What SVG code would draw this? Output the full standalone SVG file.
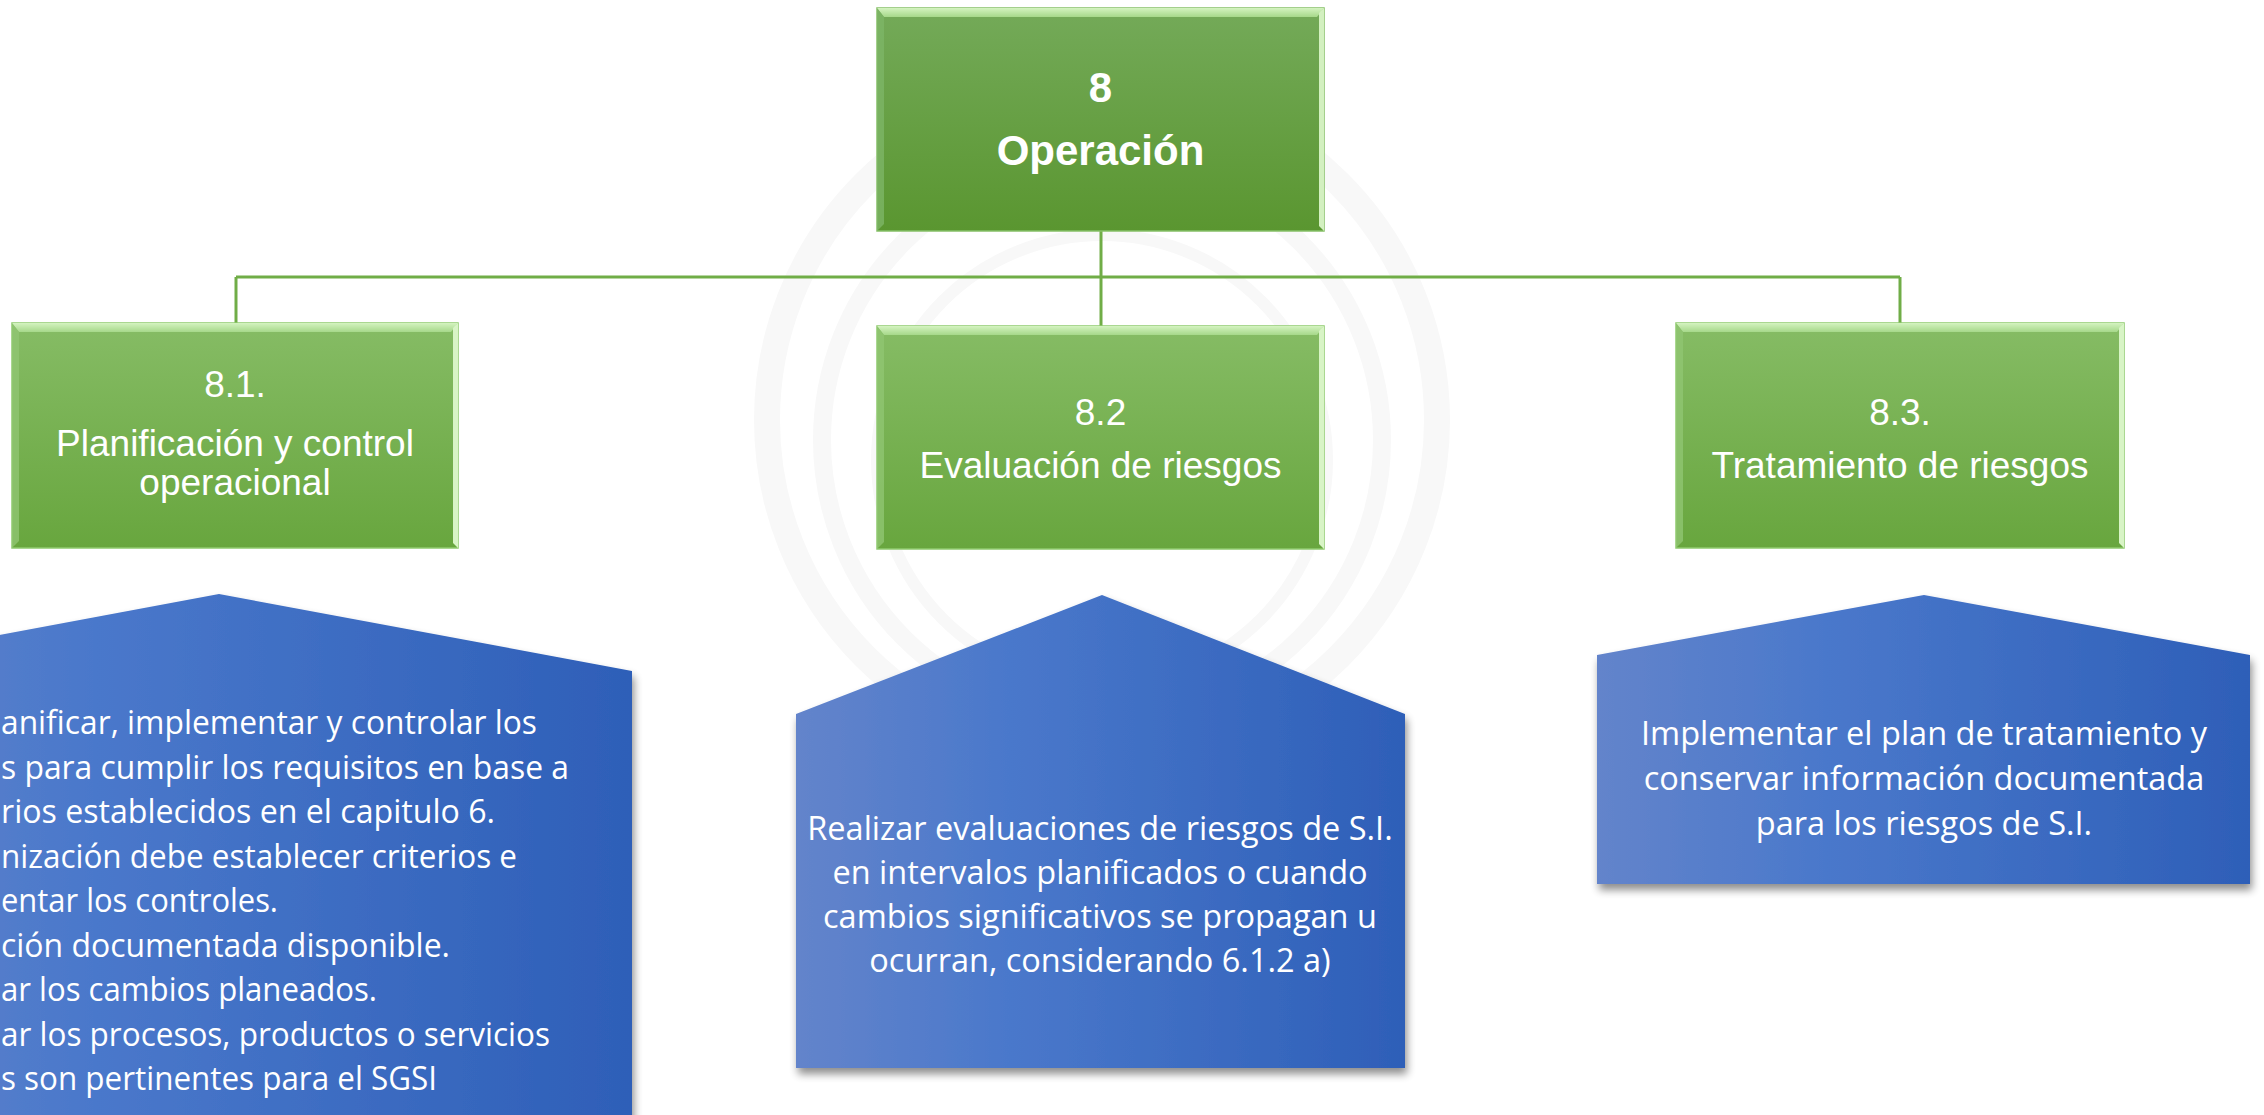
<svg xmlns="http://www.w3.org/2000/svg" width="2264" height="1115" viewBox="0 0 2264 1115">
  <defs>
    <style>
      .gtxt { font-family: "Liberation Sans", Arial, sans-serif; fill: #ffffff; text-anchor: middle; }
      .btxt { font-family: "Open Sans", "Liberation Sans", sans-serif; font-size: 32.5px; fill: #ffffff; }
      .conn { stroke: #70ad47; stroke-width: 3; fill: none; }
      .ring { fill: none; stroke: #f8f8f8; }
    </style>
    <linearGradient id="gTop" x1="0" y1="0" x2="0" y2="1">
      <stop offset="0" stop-color="#74aa59"/>
      <stop offset="1" stop-color="#5a9630"/>
    </linearGradient>
    <linearGradient id="gChild" x1="0" y1="0" x2="0" y2="1">
      <stop offset="0" stop-color="#86bc65"/>
      <stop offset="1" stop-color="#68a63e"/>
    </linearGradient>
    <linearGradient id="bevelTop" x1="0" y1="0" x2="0" y2="1">
      <stop offset="0" stop-color="#d4f3c0"/>
      <stop offset="1" stop-color="#a6d88a"/>
    </linearGradient>
    <linearGradient id="blueG" x1="0" y1="0" x2="1" y2="0">
      <stop offset="0" stop-color="#6384cb"/>
      <stop offset="0.35" stop-color="#4a78cb"/>
      <stop offset="1" stop-color="#2e5fb8"/>
    </linearGradient>
    <filter id="shadow" x="-10%" y="-10%" width="120%" height="125%">
      <feGaussianBlur in="SourceAlpha" stdDeviation="4"/>
      <feOffset dx="2" dy="6" result="b"/>
      <feComponentTransfer><feFuncA type="linear" slope="0.45"/></feComponentTransfer>
      <feMerge><feMergeNode/><feMergeNode in="SourceGraphic"/></feMerge>
    </filter>
  </defs>

  <rect x="0" y="0" width="2264" height="1115" fill="#ffffff"/>

  <!-- faint watermark rings -->
  <g id="watermark">
    <circle class="ring" cx="1102" cy="420" r="335" stroke-width="26"/>
    <circle class="ring" cx="1102" cy="440" r="280" stroke-width="18"/>
    <circle class="ring" cx="1102" cy="460" r="225" stroke-width="12"/>
  </g>

  <!-- connectors -->
  <g id="connectors">
    <line class="conn" x1="1101" y1="231" x2="1101" y2="326"/>
    <line class="conn" x1="236" y1="277" x2="1900" y2="277"/>
    <line class="conn" x1="236" y1="277" x2="236" y2="323"/>
    <line class="conn" x1="1900" y1="277" x2="1900" y2="323"/>
  </g>

  <!-- top node -->
  <g id="node-8">
    <rect x="877" y="8" width="447" height="223" fill="url(#gTop)" stroke="#86c067" stroke-width="1.5"/>
    <polygon points="877,8 1324,8 1317,17 884,17" fill="url(#bevelTop)"/>
    <polygon points="877,8 884,17 884,224 877,231" fill="#7db566" opacity="0.8"/>
    <polygon points="1324,8 1324,231 1319,226 1319,13" fill="#d3f0c0"/>
    <text class="gtxt" x="1100.5" y="102" font-size="42" font-weight="bold">8</text>
    <text class="gtxt" x="1100.5" y="165" font-size="42" font-weight="bold">Operación</text>
  </g>

  <!-- child 8.1 -->
  <g id="node-8-1">
    <rect x="12" y="323" width="446" height="225" fill="url(#gChild)" stroke="#8fca6e" stroke-width="1.5"/>
    <polygon points="12,323 458,323 451,332 19,332" fill="url(#bevelTop)"/>
    <polygon points="12,323 19,332 19,541 12,548" fill="#90c672" opacity="0.8"/>
    <polygon points="458,323 458,548 453,543 453,328" fill="#d8f4c6"/>
    <text class="gtxt" x="235" y="397" font-size="37">8.1.</text>
    <text class="gtxt" x="235" y="456" font-size="37">Planificación y control</text>
    <text class="gtxt" x="235" y="495" font-size="37">operacional</text>
  </g>

  <!-- child 8.2 -->
  <g id="node-8-2">
    <rect x="877" y="326" width="447" height="223" fill="url(#gChild)" stroke="#8fca6e" stroke-width="1.5"/>
    <polygon points="877,326 1324,326 1317,335 884,335" fill="url(#bevelTop)"/>
    <polygon points="877,326 884,335 884,542 877,549" fill="#90c672" opacity="0.8"/>
    <polygon points="1324,326 1324,549 1319,544 1319,331" fill="#d8f4c6"/>
    <text class="gtxt" x="1100.5" y="425" font-size="37">8.2</text>
    <text class="gtxt" x="1100.5" y="478" font-size="37">Evaluación de riesgos</text>
  </g>

  <!-- child 8.3 -->
  <g id="node-8-3">
    <rect x="1676" y="323" width="448" height="225" fill="url(#gChild)" stroke="#8fca6e" stroke-width="1.5"/>
    <polygon points="1676,323 2124,323 2117,332 1683,332" fill="url(#bevelTop)"/>
    <polygon points="1676,323 1683,332 1683,541 1676,548" fill="#90c672" opacity="0.8"/>
    <polygon points="2124,323 2124,548 2119,543 2119,328" fill="#d8f4c6"/>
    <text class="gtxt" x="1900" y="425" font-size="37">8.3.</text>
    <text class="gtxt" x="1900" y="478" font-size="37">Tratamiento de riesgos</text>
  </g>

  <!-- blue pentagon 8.1 -->
  <g id="desc-8-1">
    <polygon points="-194,671 219,594 632,671 632,1140 -194,1140" fill="url(#blueG)" filter="url(#shadow)"/>
    <g class="btxt">
      <text x="1" y="734" textLength="536" lengthAdjust="spacingAndGlyphs">anificar, implementar y controlar los</text>
      <text x="1" y="778.5" textLength="568" lengthAdjust="spacingAndGlyphs">s para cumplir los requisitos en base a</text>
      <text x="1" y="823" textLength="494" lengthAdjust="spacingAndGlyphs">rios establecidos en el capitulo 6.</text>
      <text x="1" y="867.5" textLength="516" lengthAdjust="spacingAndGlyphs">nización debe establecer criterios e</text>
      <text x="1" y="912" textLength="277" lengthAdjust="spacingAndGlyphs">entar los controles.</text>
      <text x="1" y="956.5" textLength="449" lengthAdjust="spacingAndGlyphs">ción documentada disponible.</text>
      <text x="1" y="1001" textLength="376" lengthAdjust="spacingAndGlyphs">ar los cambios planeados.</text>
      <text x="1" y="1045.5" textLength="549" lengthAdjust="spacingAndGlyphs">ar los procesos, productos o servicios</text>
      <text x="1" y="1090" textLength="436" lengthAdjust="spacingAndGlyphs">s son pertinentes para el SGSI</text>
    </g>
  </g>

  <!-- blue pentagon 8.2 -->
  <g id="desc-8-2">
    <polygon points="796,714 1102,595 1405,714 1405,1068 796,1068" fill="url(#blueG)" filter="url(#shadow)"/>
    <g class="btxt" text-anchor="middle">
      <text x="1100" y="840">Realizar evaluaciones de riesgos de S.I.</text>
      <text x="1100" y="884">en intervalos planificados o cuando</text>
      <text x="1100" y="928">cambios significativos se propagan u</text>
      <text x="1100" y="972">ocurran, considerando 6.1.2 a)</text>
    </g>
  </g>

  <!-- blue pentagon 8.3 -->
  <g id="desc-8-3">
    <polygon points="1597,655 1924,595 2250,655 2250,884 1597,884" fill="url(#blueG)" filter="url(#shadow)"/>
    <g class="btxt" text-anchor="middle">
      <text x="1924" y="745">Implementar el plan de tratamiento y</text>
      <text x="1924" y="790">conservar información documentada</text>
      <text x="1924" y="835">para los riesgos de S.I.</text>
    </g>
  </g>
</svg>
